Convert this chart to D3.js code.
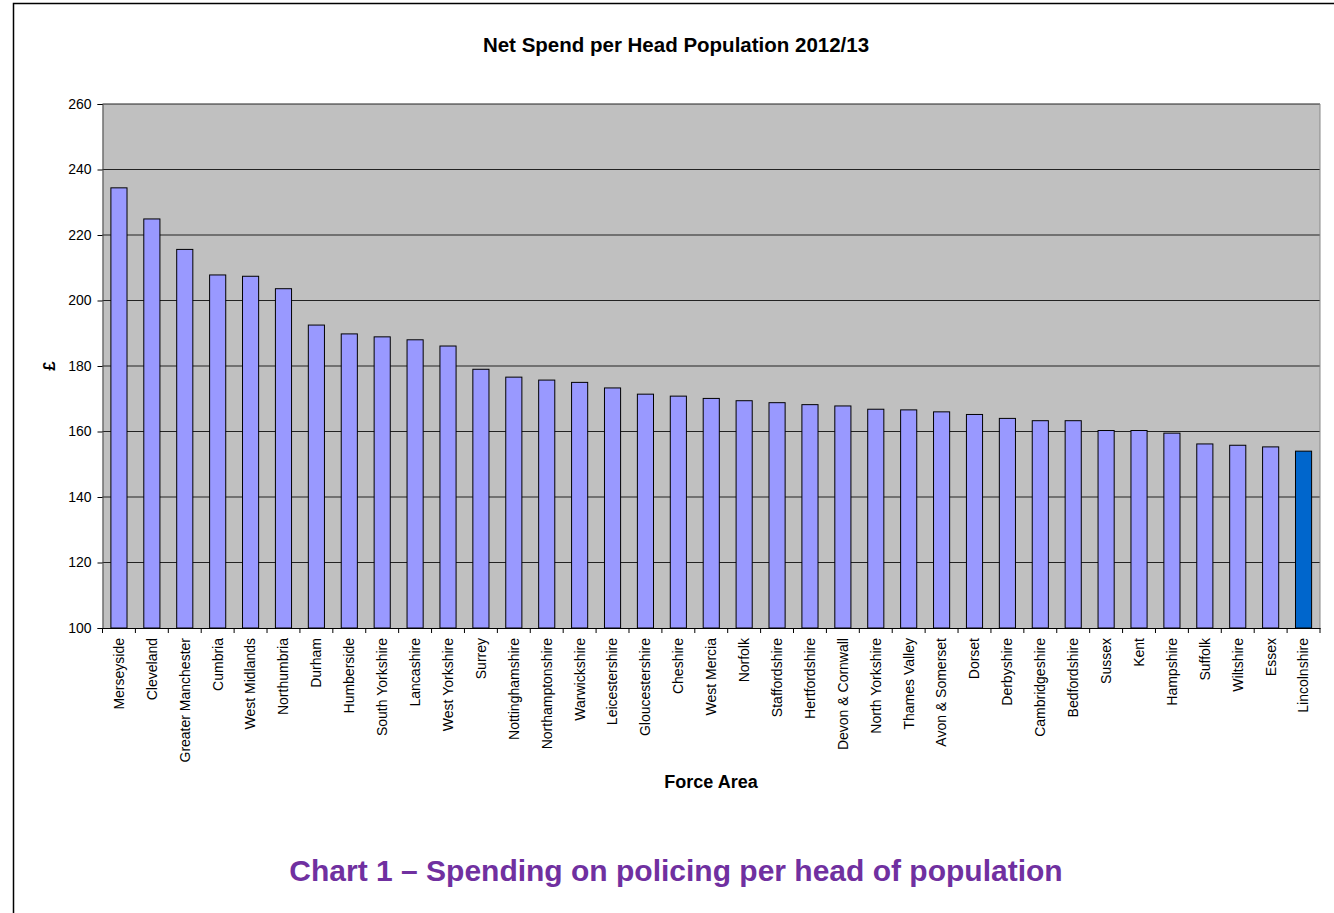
<!DOCTYPE html>
<html lang="en">
<head>
<meta charset="utf-8">
<script src="https://d3js.org/d3.v7.min.js"></script>
<style>
body { margin: 0; background: #fff; }
text { font-family: "Liberation Sans", Arial, sans-serif; }
</style>
</head>
<body>
<div id="chart"></div>
<script>
// force areas, highest spend first
var forces = ["Merseyside", "Cleveland", "Greater Manchester", "Cumbria", "West Midlands",
  "Northumbria", "Durham", "Humberside", "South Yorkshire", "Lancashire", "West Yorkshire",
  "Surrey", "Nottinghamshire", "Northamptonshire", "Warwickshire", "Leicestershire",
  "Gloucestershire", "Cheshire", "West Mercia", "Norfolk", "Staffordshire", "Hertfordshire",
  "Devon & Cornwall", "North Yorkshire", "Thames Valley", "Avon & Somerset", "Dorset",
  "Derbyshire", "Cambridgeshire", "Bedfordshire", "Sussex", "Kent", "Hampshire", "Suffolk",
  "Wiltshire", "Essex", "Lincolnshire"];

// net spend per head (£)
var spend = [234.4, 224.9, 215.6, 207.8, 207.4, 203.6, 192.5, 189.8, 188.9, 188.0, 186.1,
  179.0, 176.6, 175.7, 175.0, 173.3, 171.4, 170.8, 170.1, 169.4, 168.8, 168.2, 167.8, 166.8,
  166.6, 166.0, 165.2, 164.0, 163.3, 163.3, 160.3, 160.3, 159.5, 156.2, 155.8, 155.3, 154.0];

var yTicks = [100, 120, 140, 160, 180, 200, 220, 240, 260];
var highlight = "Lincolnshire";

var width = 1334, height = 913;
var plot = { left: 102.5, top: 104, right: 1320, bottom: 628 };

var svg = d3.select("#chart").append("svg")
  .attr("width", width)
  .attr("height", height);

// outer frame (runs off the right and bottom of the page)
svg.append("rect")
  .attr("x", 13.5).attr("y", 3.5)
  .attr("width", 1400).attr("height", 1000)
  .attr("fill", "none").attr("stroke", "#000").attr("stroke-width", 1.5);

var x = d3.scaleBand()
  .domain(forces)
  .range([plot.left, plot.right])
  .paddingInner(0.51)
  .paddingOuter(0.255);

var y = d3.scaleLinear()
  .domain([100, 260])
  .range([plot.bottom, plot.top]);

// plot background
svg.append("rect")
  .attr("x", plot.left).attr("y", plot.top)
  .attr("width", plot.right - plot.left)
  .attr("height", plot.bottom - plot.top)
  .attr("fill", "#c0c0c0");

// gridlines
svg.append("g")
  .selectAll("line")
  .data(yTicks.slice(1))
  .join("line")
  .attr("x1", plot.left).attr("x2", plot.right)
  .attr("y1", d => y(d)).attr("y2", d => y(d))
  .attr("stroke", "#222").attr("stroke-width", 1);

// bars
svg.append("g")
  .selectAll("rect")
  .data(forces)
  .join("rect")
  .attr("x", d => x(d))
  .attr("y", (d, i) => y(spend[i]))
  .attr("width", x.bandwidth())
  .attr("height", (d, i) => y(100) - y(spend[i]))
  .attr("fill", d => d == highlight ? "#0066cc" : "#9999ff")
  .attr("stroke", "#000")
  .attr("stroke-width", 1);

// y axis
var yAxis = svg.append("g")
  .attr("transform", "translate(" + plot.left + ",0)")
  .call(d3.axisLeft(y).tickValues(yTicks).tickSize(5).tickPadding(6));
yAxis.select(".domain").attr("stroke", "#444");
yAxis.selectAll("text").style("font-size", "14px").attr("fill", "#000");

// x axis, ticks between categories
var xAxis = svg.append("g")
  .attr("transform", "translate(0," + plot.bottom + ")")
  .call(d3.axisBottom(x).tickSize(0).tickPadding(10));
xAxis.select(".domain").attr("stroke", "#000");
xAxis.selectAll("text")
  .style("font-size", "14px")
  .attr("fill", "#000")
  .attr("transform", "rotate(-90)")
  .attr("text-anchor", "end")
  .attr("x", -10)
  .attr("y", 0)
  .attr("dy", "0.35em");
xAxis.append("g")
  .selectAll("line")
  .data(d3.range(forces.length + 1))
  .join("line")
  .attr("x1", i => plot.left + i * (plot.right - plot.left) / forces.length)
  .attr("x2", i => plot.left + i * (plot.right - plot.left) / forces.length)
  .attr("y1", 0).attr("y2", 5)
  .attr("stroke", "#000");

// right edge of plot
svg.append("line")
  .attr("x1", plot.right).attr("x2", plot.right)
  .attr("y1", plot.top).attr("y2", plot.bottom)
  .attr("stroke", "#888");

// titles
svg.append("text")
  .attr("x", 676).attr("y", 52)
  .attr("text-anchor", "middle")
  .style("font-size", "20.5px").style("font-weight", "bold")
  .text("Net Spend per Head Population 2012/13");

svg.append("text")
  .attr("transform", "translate(55,366) rotate(-90)")
  .attr("text-anchor", "middle")
  .style("font-size", "17px").style("font-weight", "bold")
  .text("£");

svg.append("text")
  .attr("x", 711).attr("y", 788)
  .attr("text-anchor", "middle")
  .style("font-size", "18px").style("font-weight", "bold")
  .text("Force Area");

svg.append("text")
  .attr("x", 676).attr("y", 881)
  .attr("text-anchor", "middle")
  .attr("fill", "#7030a0")
  .style("font-size", "30px").style("font-weight", "bold")
  .text("Chart 1 – Spending on policing per head of population");
</script>
</body>
</html>
